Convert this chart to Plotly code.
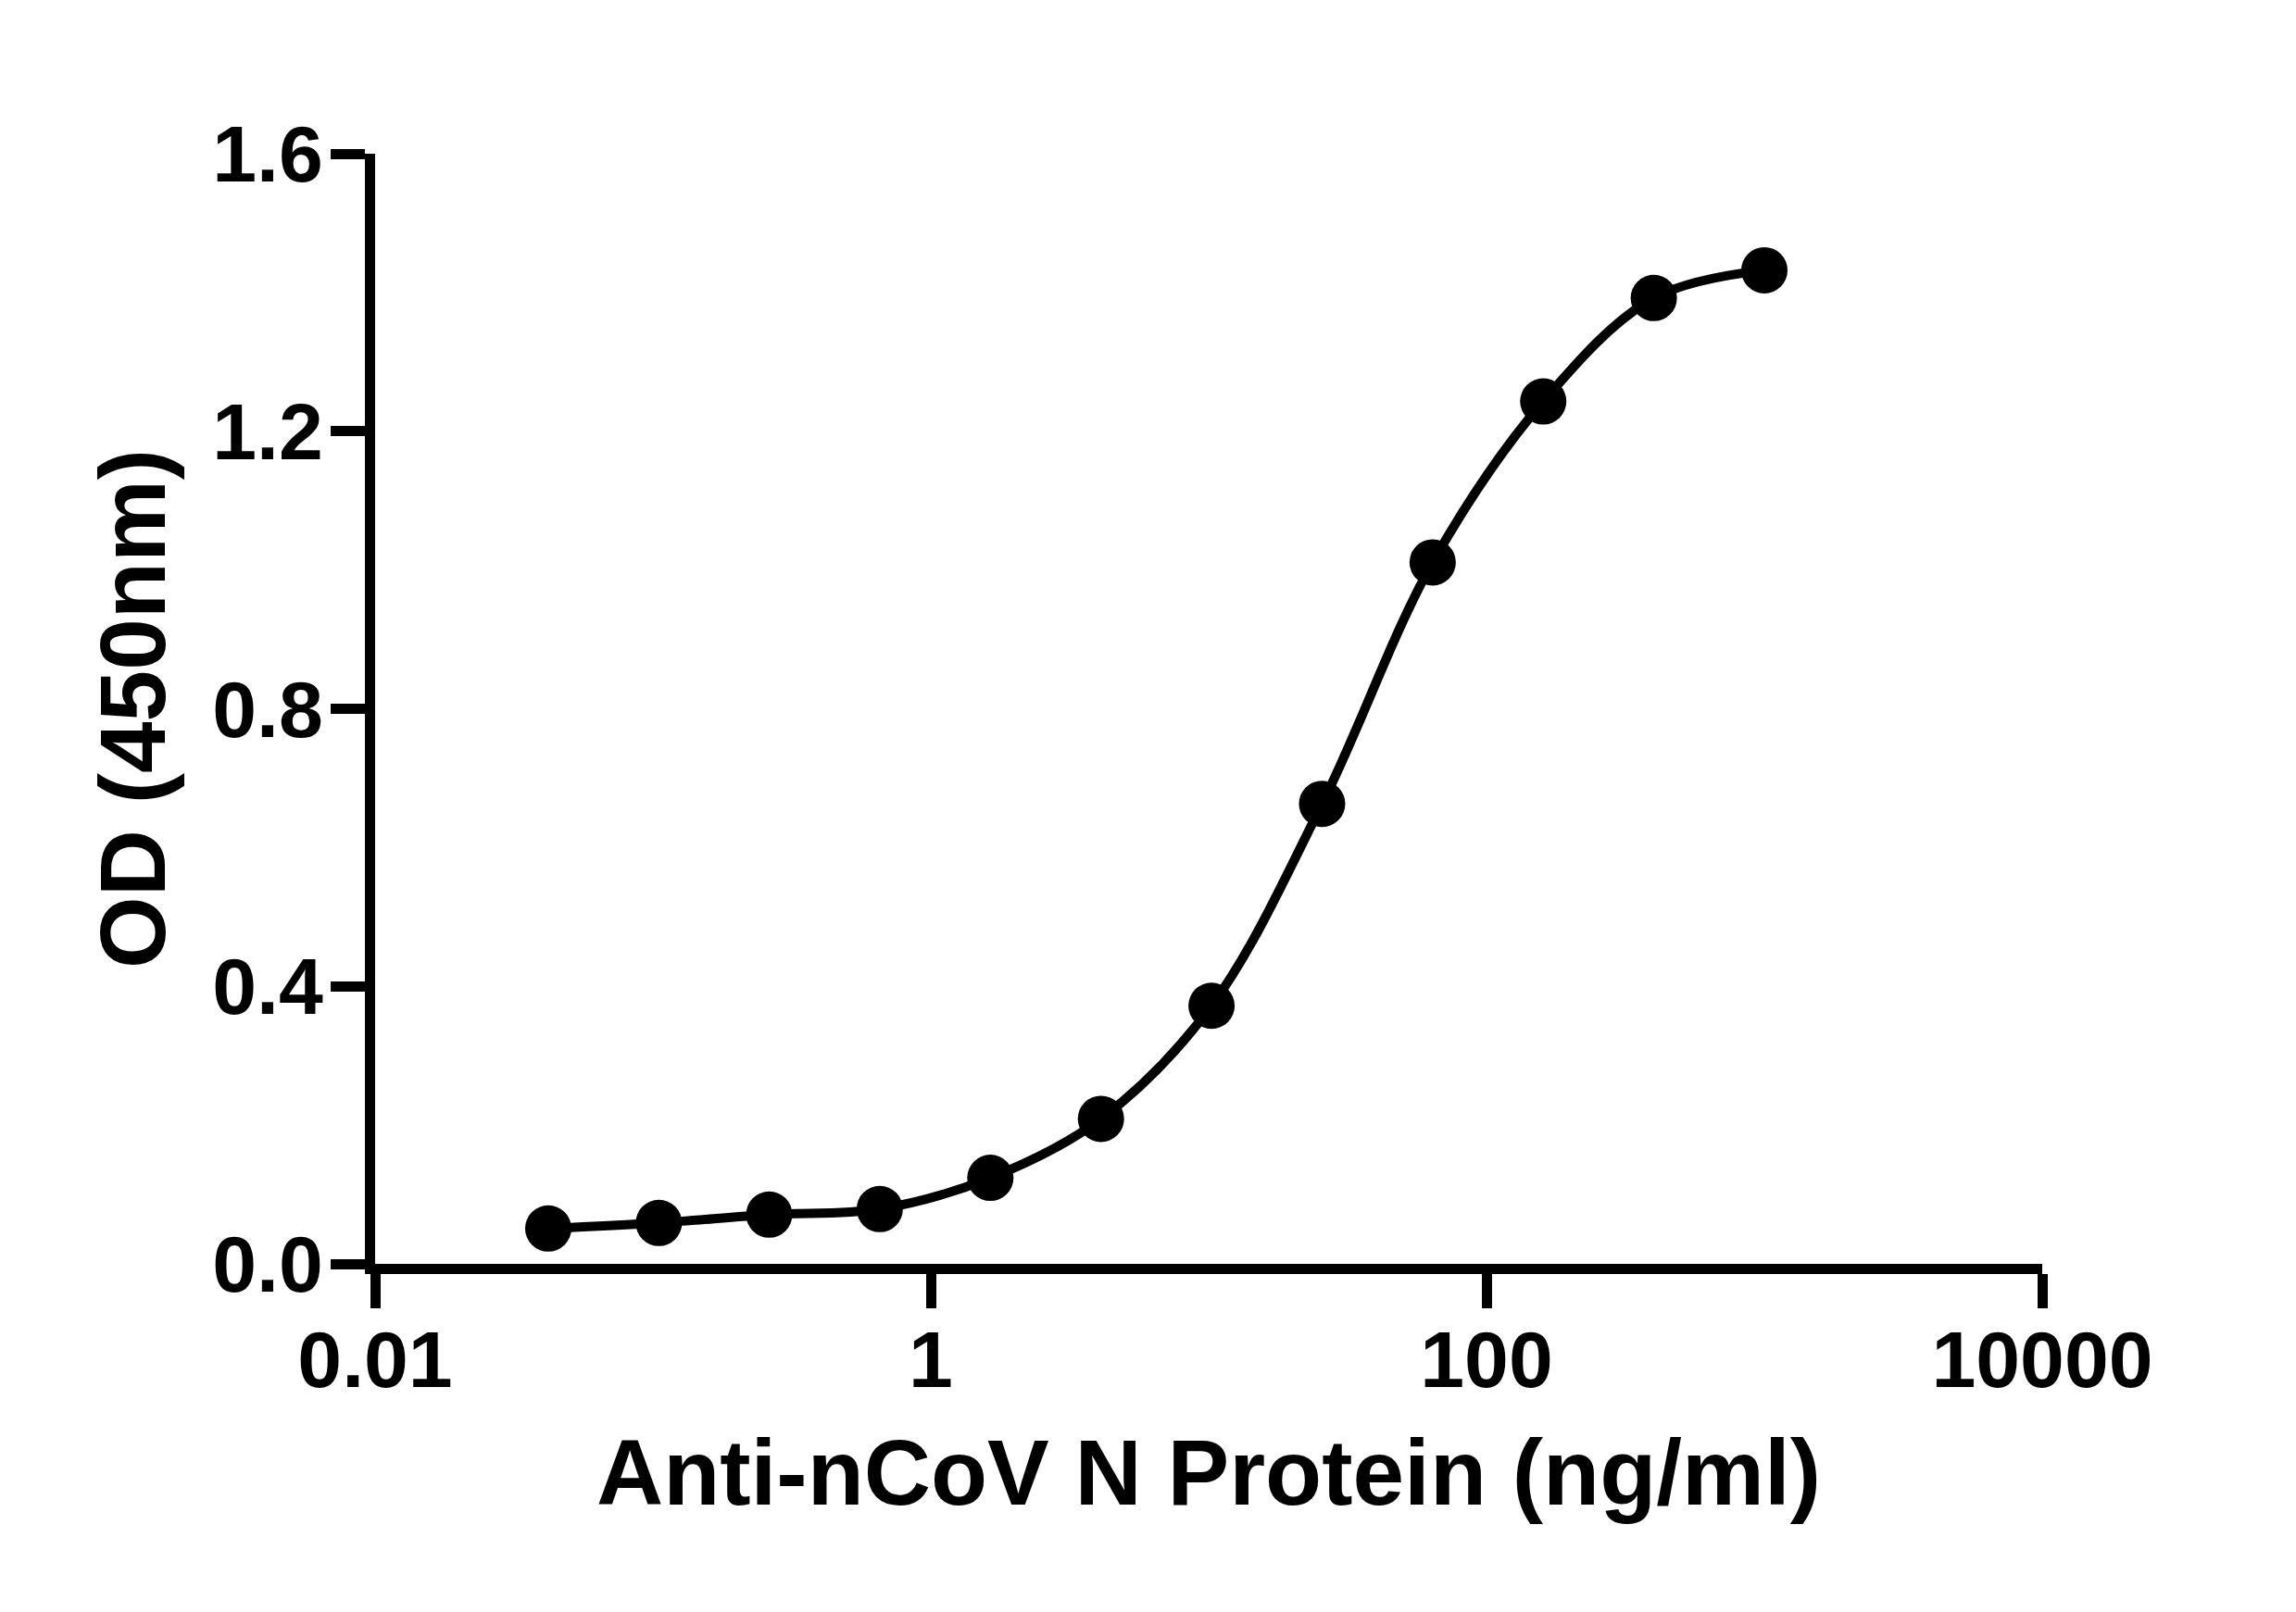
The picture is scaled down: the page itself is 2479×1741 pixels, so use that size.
import plotly.graph_objects as go

# === DATA: 2.5-fold dilution series ===
conc_ng_ml = [0.042, 0.105, 0.262, 0.655, 1.638, 4.096, 10.24, 25.6, 64, 160, 400, 1000]
od_450 = [0.051, 0.059, 0.071, 0.079, 0.124, 0.209, 0.372, 0.663, 1.011, 1.243, 1.392, 1.432]

x_tickvals = [0.01, 1, 100, 10000]
x_ticktext = ['0.01', '1', '100', '10000']
y_tickvals = [0.0, 0.4, 0.8, 1.2, 1.6]

FONT = 'Liberation Sans, Arial, sans-serif'

fig = go.Figure()
fig.add_trace(go.Scatter(
    x=conc_ng_ml,
    y=od_450,
    mode='lines+markers',
    line=dict(color='black', width=10, shape='spline', smoothing=1),
    marker=dict(color='black', size=50),
    showlegend=False,
))

axis_common = dict(
    showline=True, linecolor='black', linewidth=11,
    ticks='outside', tickcolor='black', tickwidth=11, ticklen=37,
    showgrid=False, zeroline=False,
    tickfont=dict(family=FONT, size=86, color='black', weight='bold'),
)

fig.update_xaxes(
    type='log', range=[-2, 4],
    tickvals=x_tickvals, ticktext=x_ticktext,
    ticklabelstandoff=-18,
    title=dict(text='<b>Anti-nCoV N Protein (ng/ml)</b>',
               font=dict(family=FONT, size=100, color='black'), standoff=44),
    **axis_common,
)
fig.update_yaxes(
    range=[0, 1.6],
    tickvals=y_tickvals, tickformat='.1f',
    ticklabelstandoff=-9,
    title=dict(text='<b>OD (450nm)</b>',
               font=dict(family=FONT, size=100, color='black'), standoff=22),
    **axis_common,
)

# page body adds an 8px offset, so margins are shifted by 8
fig.update_layout(
    width=2479, height=1741,
    margin=dict(l=397, r=282, t=158, b=384),
    paper_bgcolor='white', plot_bgcolor='white',
)

fig.write_html('out.html')
